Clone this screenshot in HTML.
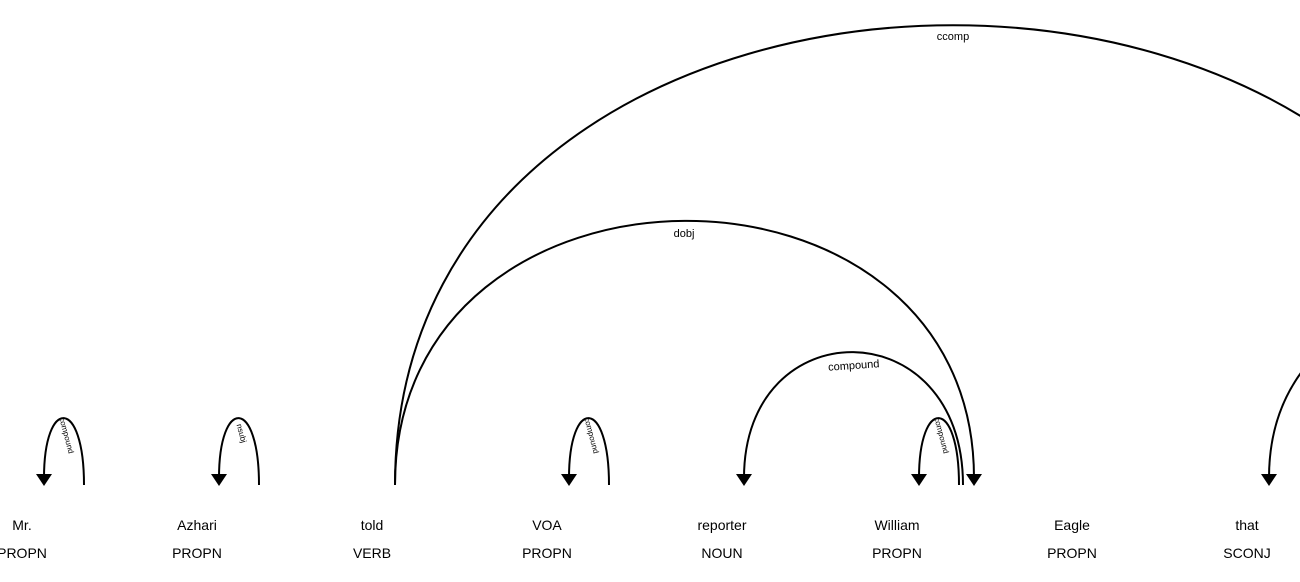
<!DOCTYPE html>
<html><head><meta charset="utf-8"><style>
body{margin:0;background:#fff;}
svg{display:block;font-family:"Liberation Sans",Arial,sans-serif;}
</style></head><body>
<svg width="1300" height="582" viewBox="0 0 1300 582" xmlns="http://www.w3.org/2000/svg">
<g font-size="14" text-anchor="middle" fill="#000">
<text x="22" y="530">Mr.</text><text x="22" y="558">PROPN</text>
<text x="197" y="530">Azhari</text><text x="197" y="558">PROPN</text>
<text x="372" y="530">told</text><text x="372" y="558">VERB</text>
<text x="547" y="530">VOA</text><text x="547" y="558">PROPN</text>
<text x="722" y="530">reporter</text><text x="722" y="558">NOUN</text>
<text x="897" y="530">William</text><text x="897" y="558">PROPN</text>
<text x="1072" y="530">Eagle</text><text x="1072" y="558">PROPN</text>
<text x="1247" y="530">that</text><text x="1247" y="558">SCONJ</text>
</g>
<g fill="none" stroke="#000" stroke-width="2">
<path d="M84,485 C84,397 44,397 44,478"/>
<path d="M259,485 C259,397 219,397 219,478"/>
<path d="M609,485 C609,397 569,397 569,478"/>
<path d="M959,485 C959,397 919,397 919,478"/>
<path d="M963,485 C963,309 744,309 744,478"/>
<path d="M395,485 C395,134 974,134 974,478"/>
<path d="M395,485 C395,-128 1511,-128 1511,485"/>
<path d="M1400,300 C1330,330 1269,380 1269,478"/>
</g>
<g fill="#000">
<path d="M44,486 L36,474 L52,474Z"/>
<path d="M219,486 L211,474 L227,474Z"/>
<path d="M569,486 L561,474 L577,474Z"/>
<path d="M919,486 L911,474 L927,474Z"/>
<path d="M744,486 L736,474 L752,474Z"/>
<path d="M974,486 L966,474 L982,474Z"/>
<path d="M1269,486 L1261,474 L1277,474Z"/>
</g>
<g font-size="11" text-anchor="middle" fill="#000">
<text x="953" y="40">ccomp</text>
<text x="684" y="237">dobj</text>
<text x="854" y="369" transform="rotate(-4 854 369)">compound</text>
<text x="64" y="436" font-size="8" transform="rotate(75 64 436)">compound</text>
<text x="239" y="434" font-size="8" transform="rotate(75 239 434)">nsubj</text>
<text x="589" y="436" font-size="8" transform="rotate(75 589 436)">compound</text>
<text x="939" y="436" font-size="8" transform="rotate(75 939 436)">compound</text>
</g>
</svg>
</body></html>
